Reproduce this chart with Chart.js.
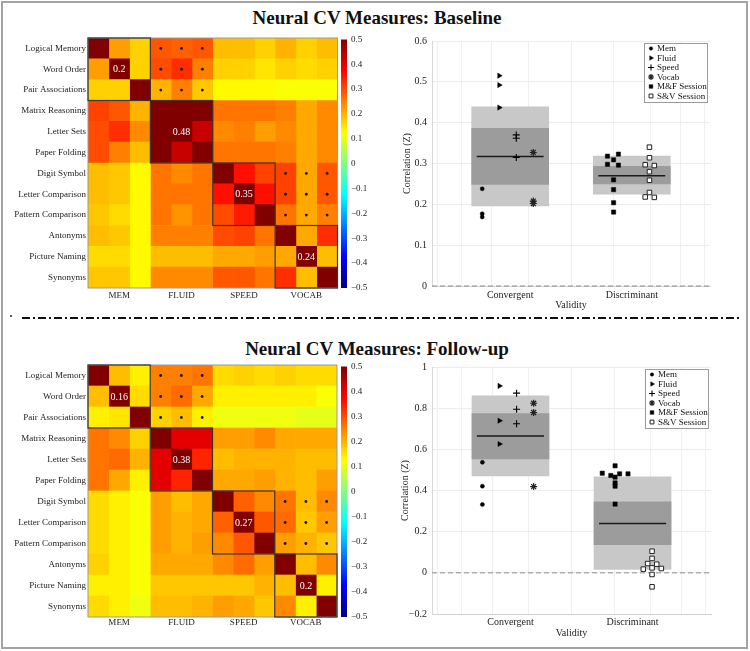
<!DOCTYPE html>
<html>
<head>
<meta charset="utf-8">
<script src="https://cdn.jsdelivr.net/npm/chart.js@4.4.1/dist/chart.umd.min.js"></script>
<style>
    body { margin: 0; background: #fff; }
    #fig { position: relative; width: 750px; height: 651px; background: #fff; font-family: 'Liberation Serif', serif; }
    #fig canvas { position: absolute; }
    .frame { position: absolute; left: 1px; top: 1px; width: 747px; height: 648px; box-sizing: border-box; border: 2px solid #a3a3a3; }
    .title { position: absolute; left: 0; width: 754px; text-align: center; font-weight: bold; font-size: 19px; line-height: 20px; color: #111; }
    svg.sep { position: absolute; left: 0; top: 310px; }
</style>
</head>
<body>
<div id="fig">
    <div class="frame"></div>
    <div class="title" style="top:8px">Neural CV Measures: Baseline</div>
    <div class="title" style="top:339px">Neural CV Measures: Follow-up</div>
    <svg class="sep" width="750" height="16">
        <circle cx="11" cy="6" r="1" fill="#222"></circle>
        <line x1="22" y1="8" x2="740" y2="8" stroke="#111" stroke-width="2" stroke-dasharray="8 3 2 3"></line>
    </svg>
    <canvas id="heatBase" width="340" height="280" style="left:0;top:30px"></canvas>
    <canvas id="barBase" width="50" height="270" style="left:330px;top:30px"></canvas>
    <canvas id="scatBase" width="380" height="290" style="left:370px;top:30px"></canvas>
    <canvas id="heatFollow" width="340" height="282" style="left:0;top:357px"></canvas>
    <canvas id="barFollow" width="50" height="272" style="left:330px;top:357px"></canvas>
    <canvas id="scatFollow" width="380" height="290" style="left:370px;top:356px"></canvas>
</div>
<script>
// ---- heatmap data ----
const row_names = ['Logical Memory', 'Word Order', 'Pair Associations', 'Matrix Reasoning', 'Letter Sets', 'Paper Folding',
    'Digit Symbol', 'Letter Comparison', 'Pattern Comparison', 'Antonyms', 'Picture Naming', 'Synonyms']
const group_names = ['MEM', 'FLUID', 'SPEED', 'VOCAB']

const base_corr = [
    [1.00, 0.22, 0.17, 0.29, 0.28, 0.29, 0.19, 0.19, 0.17, 0.20, 0.17, 0.19],
    [0.22, 1.00, 0.17, 0.30, 0.33, 0.25, 0.17, 0.17, 0.15, 0.17, 0.16, 0.17],
    [0.17, 0.17, 1.00, 0.20, 0.25, 0.18, 0.13, 0.13, 0.13, 0.12, 0.12, 0.12],
    [0.31, 0.29, 0.20, 1.00, 0.50, 0.50, 0.26, 0.26, 0.26, 0.25, 0.21, 0.24],
    [0.30, 0.33, 0.24, 0.50, 1.00, 0.43, 0.24, 0.25, 0.22, 0.24, 0.21, 0.24],
    [0.30, 0.25, 0.19, 0.50, 0.43, 1.00, 0.26, 0.26, 0.26, 0.25, 0.21, 0.24],
    [0.19, 0.18, 0.13, 0.26, 0.24, 0.26, 1.00, 0.36, 0.31, 0.31, 0.21, 0.29],
    [0.19, 0.18, 0.13, 0.26, 0.26, 0.26, 0.36, 1.00, 0.36, 0.31, 0.21, 0.29],
    [0.18, 0.16, 0.13, 0.26, 0.23, 0.26, 0.30, 0.35, 1.00, 0.26, 0.21, 0.25],
    [0.19, 0.18, 0.13, 0.25, 0.25, 0.25, 0.30, 0.31, 0.26, 1.00, 0.21, 0.33],
    [0.16, 0.16, 0.13, 0.19, 0.19, 0.19, 0.21, 0.21, 0.22, 0.21, 1.00, 0.19],
    [0.18, 0.18, 0.13, 0.24, 0.24, 0.24, 0.29, 0.29, 0.26, 0.33, 0.19, 1.00]
]
const follow_corr = [
    [1.00, 0.19, 0.14, 0.25, 0.25, 0.26, 0.16, 0.17, 0.16, 0.17, 0.16, 0.16],
    [0.19, 1.00, 0.16, 0.25, 0.27, 0.21, 0.14, 0.14, 0.14, 0.14, 0.14, 0.12],
    [0.14, 0.15, 1.00, 0.17, 0.19, 0.14, 0.11, 0.11, 0.11, 0.11, 0.10, 0.10],
    [0.26, 0.24, 0.17, 1.00, 0.40, 0.40, 0.22, 0.22, 0.24, 0.21, 0.21, 0.21],
    [0.26, 0.27, 0.20, 0.40, 1.00, 0.34, 0.19, 0.20, 0.20, 0.20, 0.19, 0.19],
    [0.26, 0.21, 0.14, 0.40, 0.34, 1.00, 0.21, 0.21, 0.22, 0.20, 0.19, 0.22],
    [0.16, 0.14, 0.12, 0.22, 0.19, 0.21, 1.00, 0.28, 0.24, 0.26, 0.19, 0.24],
    [0.16, 0.14, 0.12, 0.22, 0.20, 0.21, 0.28, 1.00, 0.29, 0.27, 0.18, 0.22],
    [0.16, 0.14, 0.12, 0.22, 0.20, 0.22, 0.24, 0.29, 1.00, 0.22, 0.20, 0.18],
    [0.17, 0.14, 0.12, 0.21, 0.21, 0.21, 0.24, 0.27, 0.22, 1.00, 0.19, 0.24],
    [0.14, 0.14, 0.12, 0.18, 0.18, 0.18, 0.18, 0.18, 0.20, 0.19, 1.00, 0.14],
    [0.16, 0.14, 0.11, 0.19, 0.19, 0.20, 0.22, 0.21, 0.18, 0.24, 0.14, 1.00]
]
const base_block_means = [0.2, 0.48, 0.35, 0.24]
const follow_block_means = [0.16, 0.38, 0.27, 0.2]
const sig_blocks = [[0, 1], [2, 3]]   // [row group, column group] marked with dots
const color_range = [-0.5, 0.5]

// ---- validity data ----
const validity = ['Convergent', 'Discriminant']
const series_names = ['Mem', 'Fluid', 'Speed', 'Vocab', 'M&F Session', 'S&V Session']
const convergent_x = [0.77, 0.91, 1.05, 1.19]

const base_mem = [0.238, 0.177, 0.169]
const base_fluid = [0.515, 0.492, 0.437]
const base_speed = [0.370, 0.362, 0.315]
const base_vocab = [0.327, 0.208, 0.202]
const base_mf = [0.318, 0.309, 0.323, 0.298, 0.296, 0.260, 0.236, 0.204, 0.181]
const base_mf_x = [1.80, 1.85, 1.89, 1.80, 1.89, 1.85, 1.85, 1.85, 1.85]
const base_sv = [0.340, 0.314, 0.297, 0.295, 0.280, 0.259, 0.229, 0.218, 0.217]
const base_sv_x = [2.145, 2.145, 2.11, 2.185, 2.145, 2.145, 2.145, 2.11, 2.185]
const base_outer = [[0.196, 0.439], [0.225, 0.318]]
const base_inner = [[0.249, 0.386], [0.250, 0.293]]
const base_mean = [0.317, 0.270]

const follow_mem = [0.537, 0.421, 0.332]
const follow_fluid = [0.908, 0.739, 0.626]
const follow_speed = [0.873, 0.795, 0.724]
const follow_vocab = [0.824, 0.779, 0.419]
const follow_mf = [0.520, 0.484, 0.481, 0.481, 0.473, 0.465, 0.437, 0.421, 0.334]
const follow_mf_x = [1.857, 1.752, 1.894, 1.963, 1.822, 1.857, 1.857, 1.857, 1.857]
const follow_sv = [0.105, 0.070, 0.045, 0.042, 0.024, 0.021, 0.018, -0.008, -0.068]
const follow_sv_x = [2.16, 2.16, 2.124, 2.198, 2.16, 2.236, 2.088, 2.16, 2.16]
const follow_outer = [[0.471, 0.860], [0.016, 0.466]]
const follow_inner = [[0.553, 0.774], [0.137, 0.345]]
const follow_mean = [0.665, 0.240]

Chart.defaults.font.family = "'Liberation Serif', 'Times New Roman', serif"
Chart.defaults.color = '#222'

// MATLAB jet colormap, value clipped to the colour range
function jet(v)
{
    const f = (Math.min(Math.max(v, color_range[0]), color_range[1]) - color_range[0]) / (color_range[1] - color_range[0])
    const c = t => Math.round(255 * Math.min(Math.max(t, 0), 1))
    return `rgb(${c(1.5 - Math.abs(4 * f - 3))}, ${c(1.5 - Math.abs(4 * f - 2))}, ${c(1.5 - Math.abs(4 * f - 1))})`
}

const fmt_tick = v => {
    const r = Math.round(v * 100) / 100
    return (r === 0 ? '0' : String(r)).replace('-', '\u2212')
}

// outlines, significance dots and block means on top of the cells
const heat_blocks = {
    id: 'heatBlocks',
    afterDatasetsDraw(chart, args, opts) {
        const {ctx, chartArea, scales: {x, y}} = chart
        ctx.save()
        ctx.strokeStyle = '#9a9a9a'
        ctx.lineWidth = 1
        ctx.strokeRect(chartArea.left, chartArea.top, chartArea.right - chartArea.left, chartArea.bottom - chartArea.top)

        ctx.strokeStyle = '#3b3530'
        ctx.lineWidth = 1.2
        group_names.forEach((g, i) => {
            const x0 = x.getPixelForValue(i * 3), x1 = x.getPixelForValue(i * 3 + 3)
            const y0 = y.getPixelForValue(i * 3 - 0.5), y1 = y.getPixelForValue(i * 3 + 2.5)
            ctx.strokeRect(x0, y0, x1 - x0, y1 - y0)
        })

        ctx.fillStyle = '#111'
        sig_blocks.forEach(([rg, cg]) => {
            for (let r = rg * 3; r < rg * 3 + 3; r++) {
                for (let c = cg * 3; c < cg * 3 + 3; c++) {
                    ctx.beginPath()
                    ctx.arc(x.getPixelForValue(c + 0.5), y.getPixelForValue(r), 1.4, 0, Math.PI * 2)
                    ctx.fill()
                }
            }
        })

        ctx.fillStyle = '#fff'
        ctx.font = "10px 'Liberation Serif'"
        ctx.textAlign = 'center'
        ctx.textBaseline = 'middle'
        opts.means.forEach((m, i) => {
            ctx.fillText(String(m), x.getPixelForValue(i * 3 + 1.5), y.getPixelForValue(i * 3 + 1) + 0.5)
        })
        ctx.restore()
    }
}

function heatmap(id, corr, means, lay)
{
    // one stacked dataset per column, each cell one unit wide
    const datasets = row_names.map((_, col) => ({
        data: row_names.map(() => 1),
        backgroundColor: ctx => jet(corr[ctx.dataIndex][col]),
        borderWidth: 0,
        barPercentage: 1,
        categoryPercentage: 1
    }))
    return new Chart(document.getElementById(id), {
        type: 'bar',
        data: {labels: row_names, datasets: datasets},
        options: {
            indexAxis: 'y',
            responsive: false,
            animation: false,
            layout: {padding: {top: 8, right: lay.right, left: 0, bottom: 0}},
            plugins: {legend: {display: false}, tooltip: {enabled: false}, heatBlocks: {means: means}},
            scales: {
                x: {
                    type: 'linear', stacked: true, min: 0, max: 12,
                    grid: {display: false, drawTicks: false}, border: {display: false},
                    afterBuildTicks: s => { s.ticks = group_names.map((g, i) => ({value: i * 3 + 1.5})) },
                    ticks: {callback: (v, i) => group_names[i], padding: lay.label_pad, font: {size: 9}, maxRotation: 0, autoSkip: false, color: '#222'},
                    afterFit: s => { s.height = lay.axis_h }
                },
                y: {
                    stacked: true,
                    grid: {display: false, drawTicks: false}, border: {display: false},
                    ticks: {padding: 2, font: {size: 9}, autoSkip: false, color: '#222'},
                    afterFit: s => { s.width = 88 }
                }
            }
        },
        plugins: [heat_blocks]
    })
}

function colorbar(id, pad_bottom)
{
    return new Chart(document.getElementById(id), {
        type: 'bar',
        data: {
            labels: [''],
            datasets: [{
                data: [color_range],
                backgroundColor: ctx => {
                    const area = ctx.chart.chartArea
                    if (!area) return '#888'
                    const g = ctx.chart.ctx.createLinearGradient(0, area.bottom, 0, area.top)
                    for (let i = 0; i <= 63; i++) {
                        g.addColorStop(i / 63, jet(color_range[0] + (color_range[1] - color_range[0]) * i / 63))
                    }
                    return g
                },
                borderWidth: 0,
                barPercentage: 1,
                categoryPercentage: 1
            }]
        },
        options: {
            responsive: false,
            animation: false,
            layout: {padding: {left: 11, top: 8, bottom: pad_bottom, right: 0}},
            plugins: {legend: {display: false}, tooltip: {enabled: false}},
            scales: {
                x: {display: false},
                y: {
                    position: 'right', min: color_range[0], max: color_range[1],
                    ticks: {stepSize: 0.1, padding: 4, font: {size: 9}, callback: fmt_tick, color: '#222'},
                    grid: {display: false, drawTicks: false}, border: {display: false},
                    afterFit: s => { s.width = 33 }
                }
            }
        }
    })
}

// dashed reference line at zero
const zero_line = {
    id: 'zeroLine',
    beforeDatasetsDraw(chart) {
        const {ctx, chartArea, scales: {y}} = chart
        const py = y.getPixelForValue(0)
        ctx.save()
        ctx.strokeStyle = '#8c8c8c'
        ctx.lineWidth = 1
        ctx.setLineDash([5, 3])
        ctx.beginPath()
        ctx.moveTo(chartArea.left, py)
        ctx.lineTo(chartArea.right, py)
        ctx.stroke()
        ctx.restore()
    }
}

// legend box in the upper right corner of the plot area
const corner_legend = {
    id: 'cornerLegend',
    afterDraw(chart) {
        const {ctx, chartArea} = chart
        const items = chart.data.datasets.filter(d => d.type === 'scatter')
        const w = 63, row_h = 9.5, h = items.length * row_h + 2
        const left = chartArea.right - w - 3, top = chartArea.top + 2
        ctx.save()
        ctx.fillStyle = '#fff'
        ctx.fillRect(left, top, w, h)
        ctx.strokeStyle = '#9a9a9a'
        ctx.lineWidth = 1
        ctx.strokeRect(left + 0.5, top + 0.5, w, h)
        ctx.font = "9px 'Liberation Serif'"
        ctx.textBaseline = 'middle'
        items.forEach((d, i) => {
            const cy = top + 5.5 + i * row_h
            ctx.fillStyle = d.pointBackgroundColor
            ctx.strokeStyle = d.pointBorderColor
            ctx.lineWidth = d.pointBorderWidth
            Chart.helpers.drawPoint(ctx, {
                pointStyle: d.pointStyle, rotation: d.pointRotation || 0,
                radius: d.pointRadius * 0.85, borderWidth: d.pointBorderWidth
            }, left + 7, cy)
            ctx.fillStyle = '#111'
            ctx.fillText(d.label, left + 13, cy + 0.5)
        })
        ctx.restore()
    }
}

const marker_styles = [
    {pointStyle: 'circle', pointRadius: 2, pointBackgroundColor: '#000', pointBorderColor: '#000', pointBorderWidth: 0.5},
    {pointStyle: 'triangle', pointRotation: 90, pointRadius: 3, pointBackgroundColor: '#000', pointBorderColor: '#000', pointBorderWidth: 0.5},
    {pointStyle: 'cross', pointRadius: 3.5, pointBackgroundColor: '#000', pointBorderColor: '#000', pointBorderWidth: 1.1},
    {pointStyle: 'star', pointRadius: 3.5, pointBackgroundColor: '#000', pointBorderColor: '#222', pointBorderWidth: 1.2},
    {pointStyle: 'rect', pointRadius: 3, pointBackgroundColor: '#000', pointBorderColor: '#000', pointBorderWidth: 0.5},
    {pointStyle: 'rect', pointRadius: 3.2, pointBackgroundColor: '#fff', pointBorderColor: '#222', pointBorderWidth: 1}
]

function validity_chart(id, set, lay)
{
    const groups = [1, 2]
    const box = ranges => groups.map((g, i) => ({x: g, y: ranges[i]}))
    const mean_pts = []
    set.mean.forEach((m, i) => {
        mean_pts.push({x: groups[i] - 0.275, y: m}, {x: groups[i] + 0.275, y: m}, {x: groups[i] + 0.5, y: null})
    })
    const conv = (ys, k) => ys.map(v => ({x: convergent_x[k], y: v}))
    const disc = (ys, xs) => ys.map((v, i) => ({x: xs[i], y: v}))
    const series = [conv(set.mem, 0), conv(set.fluid, 1), conv(set.speed, 2), conv(set.vocab, 3),
        disc(set.mf, set.mf_x), disc(set.sv, set.sv_x)]

    const datasets = series.map((pts, i) => Object.assign({
        type: 'scatter', label: series_names[i], data: pts, order: 0
    }, marker_styles[i]))
    datasets.push(
        {type: 'line', data: mean_pts, borderColor: '#1a1a1a', borderWidth: 1.6, pointRadius: 0, order: 1},
        {type: 'bar', data: box(set.inner), backgroundColor: '#9c9c9c', barThickness: 77, stack: 'box', order: 2},
        {type: 'bar', data: box(set.outer), backgroundColor: '#c8c8c8', barThickness: 77, stack: 'box', order: 3}
    )

    return new Chart(document.getElementById(id), {
        type: 'scatter',
        data: {datasets: datasets},
        options: {
            responsive: false,
            animation: false,
            layout: {padding: {left: 0, top: 10, right: lay.right, bottom: 0}},
            plugins: {legend: {display: false}, tooltip: {enabled: false}},
            scales: {
                x: {
                    type: 'linear', min: 0.5, max: 2.5,
                    afterBuildTicks: s => { s.ticks = [0.5, 0.7, 1, 1.3, 1.7, 2, 2.3, 2.5].map(v => ({value: v})) },
                    ticks: {
                        callback: v => (v === 1 || v === 2) ? validity[v - 1] : '',
                        padding: lay.tick_pad, font: {size: 10}, maxRotation: 0, autoSkip: false, color: '#222'
                    },
                    grid: {color: '#efefef', drawTicks: false},
                    border: {color: '#d0d0d0'},
                    title: {display: true, text: 'Validity', font: {size: 10}, color: '#222', padding: {top: 0, bottom: lay.title_pad}},
                    afterFit: s => { s.height = lay.axis_h }
                },
                y: {
                    stacked: false,
                    min: set.range[0], max: set.range[1],
                    ticks: {stepSize: set.step, padding: 5, font: {size: 10}, callback: fmt_tick, color: '#222'},
                    grid: {color: '#ececec', drawTicks: false},
                    border: {color: '#d8d8d8'},
                    title: {display: true, text: 'Correlation (Z)', font: {size: 10}, color: '#222', padding: {top: lay.ytitle_pad, bottom: 0}},
                    afterFit: s => { s.width = 62 }
                }
            }
        },
        plugins: [zero_line, corner_legend]
    })
}

heatmap('heatBase', base_corr, base_block_means, {right: 2.5, axis_h: 22, label_pad: 2})
heatmap('heatFollow', follow_corr, follow_block_means, {right: 3, axis_h: 22, label_pad: 0})
colorbar('barBase', 12)
colorbar('barFollow', 12)

validity_chart('scatBase', {
    mem: base_mem, fluid: base_fluid, speed: base_speed, vocab: base_vocab,
    mf: base_mf, mf_x: base_mf_x, sv: base_sv, sv_x: base_sv_x,
    outer: base_outer, inner: base_inner, mean: base_mean,
    range: [0, 0.6], step: 0.1
}, {right: 40, axis_h: 34, tick_pad: 3, title_pad: 9, ytitle_pad: 31.5})

validity_chart('scatFollow', {
    mem: follow_mem, fluid: follow_fluid, speed: follow_speed, vocab: follow_vocab,
    mf: follow_mf, mf_x: follow_mf_x, sv: follow_sv, sv_x: follow_sv_x,
    outer: follow_outer, inner: follow_inner, mean: follow_mean,
    range: [-0.2, 1], step: 0.2
}, {right: 39, axis_h: 32, tick_pad: 2, title_pad: 7, ytitle_pad: 29.5})
</script>
</body>
</html>
